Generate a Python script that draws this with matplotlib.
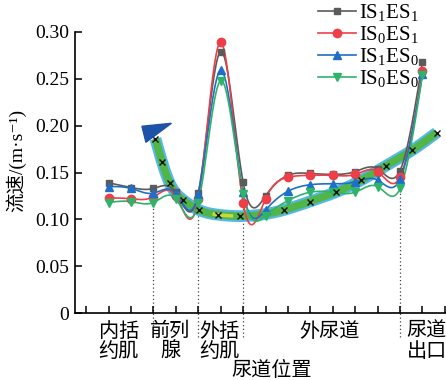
import numpy as np
import matplotlib
matplotlib.use("Agg")
import matplotlib.pyplot as plt
from matplotlib.patches import Polygon
import matplotlib.transforms as mtransforms

plt.rcParams['font.family'] = ['Liberation Serif', 'Noto Sans CJK SC', 'DejaVu Sans']
plt.rcParams['mathtext.fontset'] = 'custom'
plt.rcParams['mathtext.rm'] = 'Liberation Serif'
plt.rcParams['mathtext.it'] = 'Liberation Serif:italic'

# measurement positions along the urethra
pos = [1, 2, 3, 4, 5, 6, 7, 8, 9, 10, 11, 12, 13, 14, 15]

is1es1 = [0.139, 0.134, 0.133, 0.129, 0.128, 0.279, 0.140, 0.125, 0.147, 0.149, 0.148, 0.151, 0.154, 0.152, 0.268]
is0es1 = [0.123, 0.122, 0.124, 0.125, 0.122, 0.289, 0.118, 0.122, 0.145, 0.147, 0.147, 0.148, 0.151, 0.145, 0.258]
is1es0 = [0.135, 0.133, 0.128, 0.128, 0.127, 0.259, 0.129, 0.110, 0.130, 0.137, 0.138, 0.140, 0.142, 0.143, 0.255]
is0es0 = [0.118, 0.119, 0.118, 0.122, 0.117, 0.248, 0.127, 0.104, 0.120, 0.129, 0.129, 0.129, 0.135, 0.133, 0.254]

series_labels = ['IS$_1$ES$_1$', 'IS$_0$ES$_1$', 'IS$_1$ES$_0$', 'IS$_0$ES$_0$']

# trend band (x markers)
band_x = [3.09, 3.39, 3.72, 4.31, 5.03, 5.88, 6.88, 8.81, 9.97, 11.13, 12.28, 13.36, 14.55, 15.63]
band_y = [0.186, 0.161, 0.139, 0.121, 0.110, 0.105, 0.1035, 0.110, 0.119, 0.129, 0.142, 0.157, 0.174, 0.1925]

divider_pos = [3, 5, 7, 14]
region_labels = ['内括\n约肌', '前列\n腺', '外括\n约肌', '外尿道', '尿道\n出口']
region_pos = [1.45, 3.75, 5.95, 10.85, 15.2]


def natural_spline(x, y, n=25):
    x = np.asarray(x, float)
    y = np.asarray(y, float)
    k = len(x)
    h = np.diff(x)
    A = np.zeros((k, k))
    r = np.zeros(k)
    A[0, 0] = 1
    A[-1, -1] = 1
    for i in range(1, k - 1):
        A[i, i - 1] = h[i - 1]
        A[i, i] = 2 * (h[i - 1] + h[i])
        A[i, i + 1] = h[i]
        r[i] = 6 * ((y[i + 1] - y[i]) / h[i] - (y[i] - y[i - 1]) / h[i - 1])
    M = np.linalg.solve(A, r)
    xs, ys = [], []
    for i in range(k - 1):
        t = np.linspace(x[i], x[i + 1], n, endpoint=(i == k - 2))
        a = x[i + 1] - t
        b = t - x[i]
        s = (M[i] * a ** 3 + M[i + 1] * b ** 3) / (6 * h[i]) \
            + (y[i] / h[i] - M[i] * h[i] / 6) * a \
            + (y[i + 1] / h[i] - M[i + 1] * h[i] / 6) * b
        xs.append(t)
        ys.append(s)
    return np.concatenate(xs), np.concatenate(ys)


fig = plt.figure(figsize=(4.46, 3.80), dpi=100)
ax = fig.add_axes([0.168, 0.176, 0.832, 0.740])

# trend band
bx, by = natural_spline(band_x, band_y)
ax.plot(bx, by, color='#56b8ea', lw=8.5, solid_capstyle='butt', zorder=2)
ax.plot(bx, by, color='#52b548', lw=5.5, solid_capstyle='butt', zorder=2.1)
sel = (bx > 5.7) & (bx < 6.5)
ax.plot(bx[sel], by[sel], color='#e6e23a', lw=2.5, alpha=0.8, zorder=2.2)
ax.plot(band_x, band_y, ls='none', marker='x', color='#111111', ms=5, mew=1.0, zorder=5)

# arrow head at the start of the band (shape offsets in inches)
offs = np.array([[-0.135, 0.125], [0.16, 0.155], [-0.095, -0.035]])
arrow_tr = fig.dpi_scale_trans + mtransforms.ScaledTranslation(band_x[0], band_y[0], ax.transData)
ax.add_patch(Polygon(offs, closed=True, transform=arrow_tr, facecolor='#1d52a8',
                     edgecolor='#1d52a8', zorder=6, clip_on=False))

styles = [
    (is1es1, '#5b5b5b', 's', 5.0),
    (is0es1, '#ec3f48', 'o', 6.0),
    (is1es0, '#1f6fc8', '^', 6.0),
    (is0es0, '#2fb36b', 'v', 6.0),
]
for (vals, col, mk, ms), lab in zip(styles, series_labels):
    sx, sy = natural_spline(pos, vals)
    ax.plot(sx, sy, color=col, lw=1.2, zorder=3)
    ax.plot(pos, vals, ls='none', marker=mk, color=col, ms=ms, zorder=4)
    ax.plot([], [], color=col, lw=1.2, marker=mk, ms=ms, label=lab)

# dotted dividers from below the axis up to the lowest curve
allv = np.array([is1es1, is0es1, is1es0, is0es0])
for d in divider_pos:
    top = allv[:, pos.index(d)].min()
    ax.plot([d, d], [-0.026, top], ls=(0, (1, 2)), color='#444444', lw=0.9,
            clip_on=False, zorder=1)

ax.set_xlim(-0.5, 16.05)
ax.set_ylim(0, 0.30)
ax.set_xticks(range(0, 17))
ax.set_xticklabels([])
ax.set_yticks([0, 0.05, 0.10, 0.15, 0.20, 0.25, 0.30])
ax.set_yticklabels(['0', '0.05', '0.10', '0.15', '0.20', '0.25', '0.30'])
ax.tick_params(direction='in', length=5, width=1.1, labelsize=14, pad=4)
for side in ['top', 'right']:
    ax.spines[side].set_visible(False)
for side in ['left', 'bottom']:
    ax.spines[side].set_linewidth(1.2)

btr = mtransforms.blended_transform_factory(ax.transData, ax.transAxes)
for lab, p in zip(region_labels, region_pos):
    ax.text(p, -0.028, lab, transform=btr, ha='center', va='top',
            fontsize=14.5, linespacing=0.92, family=['Noto Sans CJK SC'])

fig.text(272 / 446, 1 - 370 / 380, '尿道位置', ha='center', va='center',
         fontsize=14.5, family=['Noto Sans CJK SC'])
fig.text(16 / 446, 1 - 160 / 380, '流速/(m·s⁻¹)', rotation=90,
         ha='center', va='center', fontsize=14,
         family=['Liberation Serif', 'Noto Sans CJK SC', 'DejaVu Sans'])

fig.legend(loc='upper left', bbox_to_anchor=(318 / 446, 1 - 2 / 380),
           frameon=False, fontsize=15, handlelength=1.8, handletextpad=0.15,
           labelspacing=0.05, borderaxespad=0, borderpad=0)

fig.savefig('out.png', dpi=100)
